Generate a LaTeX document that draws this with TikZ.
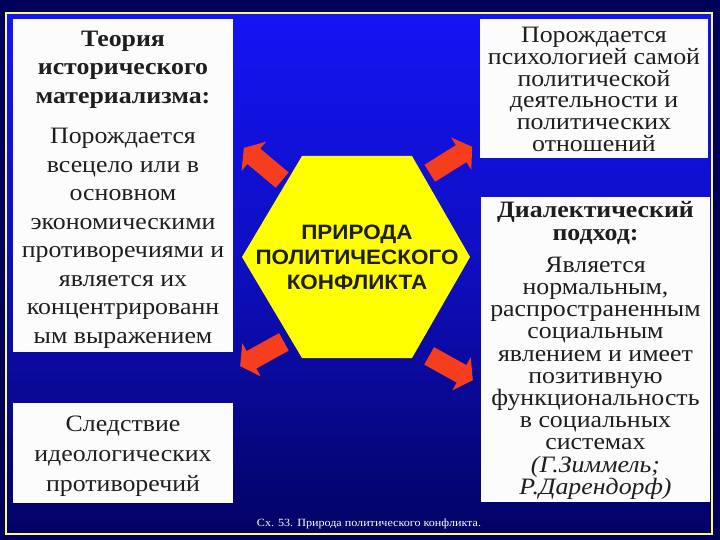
\documentclass[tikz,border=0pt]{standalone}
\usepackage{fontspec}
\setmainfont{Liberation Serif}[FakeStretch=1.1]
\newfontfamily\hexfont{Liberation Sans}[FakeStretch=1.08]
\newfontfamily\footfont{Liberation Serif}[FakeStretch=1.1]
\definecolor{navy}{RGB}{0,0,90}
\definecolor{topblue}{RGB}{20,20,245}
\definecolor{midblue}{RGB}{14,14,190}
\definecolor{botblue}{RGB}{2,2,100}
\definecolor{frameyellow}{RGB}{250,250,120}
\definecolor{boxwhite}{RGB}{252,252,252}
\definecolor{txt}{RGB}{30,30,30}
\definecolor{arrred}{RGB}{245,62,30}
\definecolor{hexyellow}{RGB}{255,255,0}
\begin{document}
\begin{tikzpicture}[x=1pt,y=-1pt,
  box/.style={fill=boxwhite, draw=none, inner sep=0pt},
  boxtext/.style={text=txt, align=center, inner sep=0pt},
  hextext/.style={text=txt, align=center, inner sep=0pt, font=\hexfont\bfseries\fontsize{20.8}{25}\selectfont},
  blockarrow/.pic={\fill[arrred] (-25,-10) -- (12,-10) -- (12,-19) -- (25,0) -- (12,19) -- (12,10) -- (-25,10) -- cycle;},
]
\useasboundingbox (0,0) rectangle (720,540);
\fill[navy] (0,0) rectangle (720,540);
\shade[top color=topblue, bottom color=botblue, middle color=midblue] (6,13) rectangle (712,534);
\draw[frameyellow, line width=2pt] (6,13) rectangle (712,534);

% boxes
\node[box, minimum width=220pt, minimum height=333pt] (lt) at (123,185.5) {};
\node[box, minimum width=220pt, minimum height=100pt] (lb) at (123,453) {};
\node[box, minimum width=228pt, minimum height=139pt] (rt) at (594,88.5) {};
\node[box, minimum width=229pt, minimum height=305pt] (rb) at (595.5,349.5) {};

% texts
\node[boxtext, font=\fontsize{23.5}{28.5}\selectfont] (ltt) at ([yshift=-4pt]lt.center)
  {\textbf{Теория}\\\textbf{исторического}\\\textbf{материализма:}\\[12pt]
   Порождается\\всецело или в\\основном\\экономическими\\противоречиями и\\является их\\концентрированн\\ым выражением};
\node[boxtext, font=\fontsize{23.5}{30}\selectfont] (lbt) at ([yshift=-3pt]lb.center)
  {Следствие\\идеологических\\противоречий};
\node[boxtext, font=\fontsize{23.5}{21.8}\selectfont] (rtt) at ([yshift=-1pt]rt.center)
  {Порождается\\психологией самой\\политической\\деятельности и\\политических\\отношений};
\node[boxtext, font=\fontsize{23.5}{22.2}\selectfont] (rbt) at ([yshift=-1pt]rb.center)
  {\textbf{Диалектический}\\\textbf{подход:}\\[10pt]
   Является\\нормальным,\\распространенным\\социальным\\явлением и имеет\\позитивную\\функциональность\\в социальных\\системах\\\textit{(Г.Зиммель;}\\\textit{Р.Дарендорф)}};

% hexagon
\coordinate (h1) at (302,156);
\coordinate (h2) at (412,156);
\coordinate (h3) at (470,257);
\coordinate (h4) at (412,358);
\coordinate (h5) at (302,358);
\coordinate (h6) at (242,257);
\fill[hexyellow] (h1) -- (h2) -- (h3) -- (h4) -- (h5) -- (h6) -- cycle;
\node[hextext] (core) at (357,257) {ПРИРОДА\\ПОЛИТИЧЕСКОГО\\КОНФЛИКТА};

% arrows
\pic[rotate=140] at (263,164) {blockarrow};
\pic[rotate=32] at (451,160) {blockarrow};
\pic[rotate=209] at (262,354) {blockarrow};
\pic[rotate=-29] at (451,368) {blockarrow};

% footer
\node[text=white, inner sep=0pt, font=\footfont\fontsize{11}{12}\selectfont] (foot) at (369,524) {Сх. 53. Природа политического конфликта.};
\end{tikzpicture}
\end{document}
